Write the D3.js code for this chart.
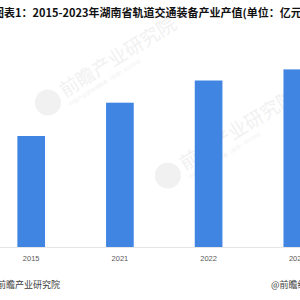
<!DOCTYPE html>
<html>
<head>
<meta charset="utf-8">
<script src="https://cdn.jsdelivr.net/npm/d3@7"></script>
<style>
  body { margin: 0; background: #fff; }
  svg { display: block; font-family: "Noto Sans CJK SC", "Liberation Sans", sans-serif; }
</style>
</head>
<body>
<div id="chart"></div>
<script>
const years = ["2015", "2021", "2022", "2023"];
const values = [1000, 1300, 1500, 1600];
const title = "图表1：2015-2023年湖南省轨道交通装备产业产值(单位：亿元)";
const source = "前瞻产业研究院";
const credit = "@前瞻经济学人APP";

const width = 300;
const height = 300;
const baseY = 247;

const svg = d3.select("#chart").append("svg").attr("width", width).attr("height", height);

const x = d3.scaleBand().domain(years).range([-13.15, 341.65]).paddingInner(0.688).paddingOuter(0.344);
const y = d3.scaleLinear().domain([0, 2000]).range([baseY, 25]);

// watermarks
[[92, 75], [212, 148]].forEach(([wx, wy]) => {
  const g = svg.append("g").attr("transform", `translate(${wx},${wy}) rotate(-32)`).attr("fill", "#f1f1f1");
  g.append("circle").attr("cx", -52).attr("cy", 0).attr("r", 13);
  g.append("text").attr("x", -35).attr("y", 5).attr("font-size", 19).text("前瞻产业研究院");
  g.append("text").attr("x", -35).attr("y", 15).attr("font-size", 5).text("中国产业咨询领导者（股票：833599）");
});

svg
  .append("g")
  .selectAll("rect")
  .data(values)
  .join("rect")
  .attr("x", (d, i) => x(years[i]))
  .attr("y", (d) => y(d))
  .attr("width", x.bandwidth())
  .attr("height", (d) => baseY - y(d))
  .attr("fill", "#4185e3");

svg.append("line").attr("x1", 0).attr("x2", width).attr("y1", baseY + 0.5).attr("y2", baseY + 0.5).attr("stroke", "#e6e6e6");

svg
  .append("g")
  .selectAll("text")
  .data(years)
  .join("text")
  .attr("x", (d) => x(d) + x.bandwidth() / 2)
  .attr("y", 261)
  .attr("text-anchor", "middle")
  .attr("font-family", "Liberation Sans, Arial, sans-serif")
  .attr("font-size", 7.5)
  .attr("fill", "#595959")
  .text((d) => d);

svg.append("text").attr("x", -7).attr("y", 17).attr("font-size", 11).attr("font-weight", "bold").attr("fill", "#111").text(title);

svg.append("text").attr("x", -3).attr("y", 288).attr("font-size", 9).attr("fill", "#404040").text(source);
svg.append("text").attr("x", 271).attr("y", 288).attr("font-size", 9).attr("fill", "#404040").text(credit);
</script>
</body>
</html>
